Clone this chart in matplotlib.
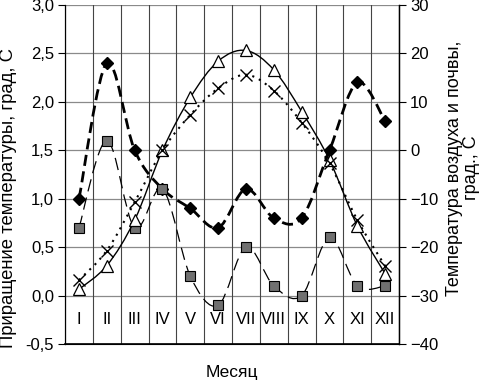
import numpy as np
import matplotlib.pyplot as plt
from matplotlib.path import Path
from matplotlib.patches import PathPatch
from matplotlib.ticker import FuncFormatter

plt.rcParams['font.family'] = ['Liberation Sans', 'DejaVu Sans']

months = ['I', 'II', 'III', 'IV', 'V', 'VI', 'VII', 'VIII', 'IX', 'X', 'XI', 'XII']
# left axis: temperature increment, deg C
incr_diamond = [1.0, 2.4, 1.5, 1.1, 0.9, 0.7, 1.1, 0.8, 0.8, 1.5, 2.2, 1.8]
incr_square = [0.7, 1.6, 0.7, 1.1, 0.2, -0.1, 0.5, 0.1, 0.0, 0.6, 0.1, 0.1]
# right axis: air and soil temperature, deg C
temp_triangle = [-28.7, -23.8, -14.4, 0.0, 10.9, 18.4, 20.6, 16.6, 8.0, -2.0, -15.6, -25.5]
temp_cross = [-26.8, -20.7, -10.7, 0.0, 7.3, 12.8, 15.6, 12.3, 5.7, -2.7, -14.4, -23.9]

x = np.arange(len(months)) + 0.5


def smooth_line(ax, xs, ys, **kw):
    # Excel-like smoothed line: cubic Bezier segments through the points
    pts = np.column_stack([xs, ys]).astype(float)
    n = len(pts)
    verts = [pts[0]]
    codes = [Path.MOVETO]
    for i in range(n - 1):
        p0 = pts[max(i - 1, 0)]
        p1 = pts[i]
        p2 = pts[i + 1]
        p3 = pts[min(i + 2, n - 1)]
        verts += [p1 + (p2 - p0) / 6, p2 - (p3 - p1) / 6, p2]
        codes += [Path.CURVE4] * 3
    patch = PathPatch(Path(verts, codes), fill=False, transform=ax.transData, **kw)
    ax.add_patch(patch)


fig = plt.figure(figsize=(4.82, 3.81), dpi=100)
ax = fig.add_axes([0.135, 0.097, 0.693, 0.89])
ax2 = ax.twinx()

ax.set_xlim(0, 12)
ax.set_ylim(-0.5, 3.0)
ax2.set_ylim(-40, 30)
ax.set_yticks(np.arange(-0.5, 3.01, 0.5))
ax2.set_yticks(np.arange(-40, 31, 10))
ax.yaxis.set_major_formatter(FuncFormatter(lambda v, p: f'{v:.1f}'.replace('.', ',')))
ax.set_xticks([])

for yv in np.arange(-0.5, 3.01, 0.5):
    ax.axhline(yv, color='#8a8a8a', lw=0.9, zorder=0)
for xv in range(13):
    ax.axvline(xv, color='#444444', lw=0.8, zorder=0)

for a in (ax, ax2):
    a.spines['top'].set_visible(False)
    a.tick_params(axis='y', length=5, width=0.8, labelsize=12, pad=3, direction='out')
ax.spines['bottom'].set_linewidth(1.2)
ax2.spines['right'].set_linewidth(1.0)

for xi, m in zip(x, months):
    ax.text(xi, -0.25, m, ha='center', va='center', fontsize=12)

smooth_line(ax, x, incr_diamond, color='black', lw=2.0, linestyle=(0, (4, 2)), zorder=3)
smooth_line(ax, x, incr_square, color='black', lw=0.9, linestyle=(0, (10, 5)), zorder=3)
ax.plot(x, incr_diamond, ls='none', marker='D', ms=6, color='black', zorder=5)
ax.plot(x, incr_square, ls='none', marker='s', ms=6.5, mfc='#707070', mec='black', mew=0.8, zorder=5)

smooth_line(ax2, x, temp_triangle, color='black', lw=1.0, linestyle='-', zorder=3)
smooth_line(ax2, x, temp_cross, color='black', lw=1.5, linestyle=(0, (1, 2.5)), zorder=3)
ax2.plot(x, temp_triangle, ls='none', marker='^', ms=8, mfc='white', mec='black', mew=0.9, zorder=5)
ax2.plot(x, temp_cross, ls='none', marker='x', ms=8, color='black', mew=1.0, zorder=5)

fig.text(232 / 482, 1 - 372 / 381, 'Месяц', ha='center', va='center', fontsize=12.5)
fig.text(9 / 482, 1 - 198 / 381, 'Приращение температуры, град, С', rotation=90,
         ha='center', va='center', fontsize=13.3)
fig.text(463 / 482, 1 - 168 / 381, 'Температура воздуха и почвы,\nград., С', rotation=90,
         ha='center', va='center', fontsize=13, linespacing=1.05, multialignment='center')

fig.savefig('out.png', dpi=100)
